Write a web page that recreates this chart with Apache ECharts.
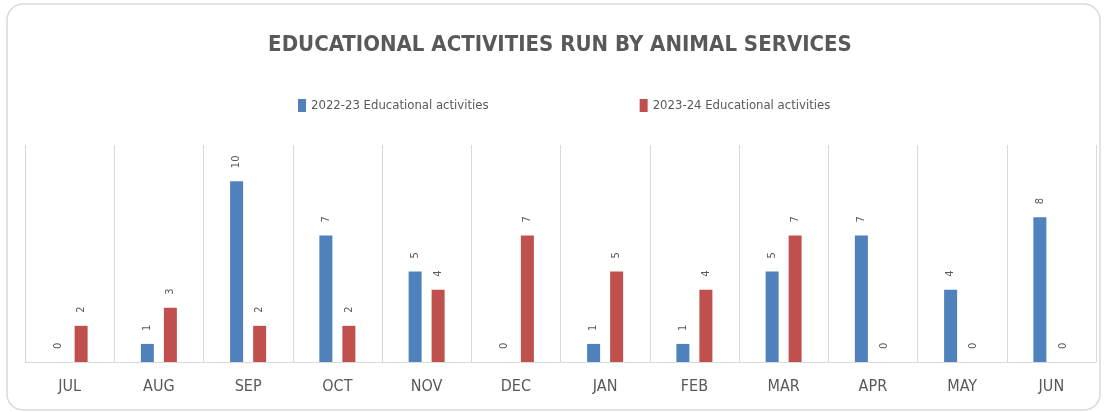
<!DOCTYPE html>
<html><head><meta charset="utf-8">
<script src="https://cdn.jsdelivr.net/npm/echarts@6/dist/echarts.min.js"></script>
<style>html,body{margin:0;padding:0;background:#fff}#c{width:1107px;height:412px}</style>
</head><body><div id="c"></div>
<script>
const months = ['JUL','AUG','SEP','OCT','NOV','DEC','JAN','FEB','MAR','APR','MAY','JUN'];
const fy2223 = [0,1,10,7,5,0,1,1,5,7,4,8];
const fy2324 = [2,3,2,2,4,7,5,4,7,0,0,0];
const seriesNames = ['2022-23 Educational activities','2023-24 Educational activities'];
const titleText = 'EDUCATIONAL ACTIVITIES RUN BY ANIMAL SERVICES';

const font = '"Liberation Sans Narrow","DejaVu Sans Condensed","Open Sans",sans-serif';
const chart = echarts.init(document.getElementById('c'));
const lbl = {show:true, position:'top', rotate:90, align:'left', verticalAlign:'middle', distance:13, color:'#595959', fontSize:11, fontFamily:font};
chart.setOption({
  animation:false,
  graphic:[{type:'rect', shape:{x:7,y:4,width:1093,height:406,r:16}, style:{fill:'none',stroke:'#d9d9d9',lineWidth:1.5}, silent:true}],
  title:{text:titleText, left:555, textAlign:'center', top:29, textStyle:{fontFamily:font, fontSize:22, fontWeight:'bold', color:'#595959'}},
  legend:{top:94, left:293, itemWidth:8, itemHeight:13, itemGap:151, icon:'rect',
    textStyle:{fontFamily:font, fontSize:13, color:'#595959'}},
  grid:{left:25, right:11, top:145, bottom:50},
  xAxis:{type:'category', data:months,
    axisLine:{lineStyle:{color:'#d9d9d9'}}, axisTick:{show:false},
    splitLine:{show:true, lineStyle:{color:'#d9d9d9'}},
    axisLabel:{color:'#595959', fontFamily:font, fontSize:16, margin:17}},
  yAxis:{type:'value', min:0, max:12, interval:2, show:false, splitLine:{show:false}},
  series:[
    {name:seriesNames[0], type:'bar', data:fy2223, barWidth:13, barGap:'77%', itemStyle:{color:'#4f81bd'}, label:lbl},
    {name:seriesNames[1], type:'bar', data:fy2324, barWidth:13, itemStyle:{color:'#c0504d'}, label:lbl}
  ]
});
</script></body></html>
